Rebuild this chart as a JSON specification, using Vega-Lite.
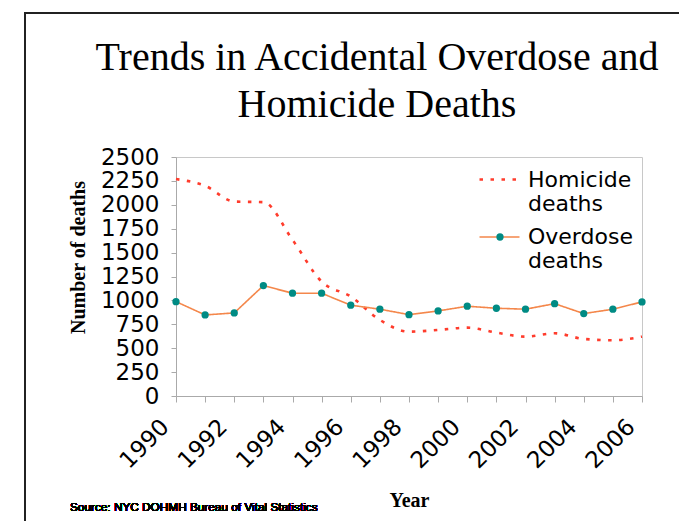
{
  "$schema": "https://vega.github.io/schema/vega-lite/v6.json",
  "width": 466,
  "height": 239,
  "autosize": {"type": "none"},
  "padding": {"left": 176, "top": 157, "right": 37, "bottom": 125},
  "background": "white",
  "title": {
    "text": ["Trends in Accidental Overdose and", "Homicide Deaths"],
    "font": "Liberation Serif",
    "fontSize": 40,
    "fontWeight": "normal",
    "color": "black",
    "lineHeight": 47,
    "anchor": "middle",
    "dx": -32,
    "offset": -113
  },
  "config": {
    "view": {"stroke": "#c8c8c8", "strokeWidth": 1},
    "axis": {
      "labelFont": "DejaVu Sans",
      "labelFontSize": 23,
      "labelColor": "black",
      "domainColor": "#aaaaaa",
      "tickColor": "#aaaaaa",
      "grid": false,
      "titleFont": "Liberation Serif",
      "titleFontSize": 20,
      "titleFontWeight": "bold",
      "titleColor": "black"
    },
    "legend": {
      "labelFont": "DejaVu Sans",
      "labelFontSize": 22,
      "labelColor": "black"
    }
  },
  "data": {
    "values": [
      {"year": 1990, "series": "Homicide deaths", "deaths": 2269},
      {"year": 1991, "series": "Homicide deaths", "deaths": 2199},
      {"year": 1992, "series": "Homicide deaths", "deaths": 2034},
      {"year": 1993, "series": "Homicide deaths", "deaths": 2028},
      {"year": 1994, "series": "Homicide deaths", "deaths": 1633},
      {"year": 1995, "series": "Homicide deaths", "deaths": 1197},
      {"year": 1996, "series": "Homicide deaths", "deaths": 1040},
      {"year": 1997, "series": "Homicide deaths", "deaths": 796},
      {"year": 1998, "series": "Homicide deaths", "deaths": 673},
      {"year": 1999, "series": "Homicide deaths", "deaths": 691},
      {"year": 2000, "series": "Homicide deaths", "deaths": 715},
      {"year": 2001, "series": "Homicide deaths", "deaths": 663},
      {"year": 2002, "series": "Homicide deaths", "deaths": 621},
      {"year": 2003, "series": "Homicide deaths", "deaths": 656},
      {"year": 2004, "series": "Homicide deaths", "deaths": 597},
      {"year": 2005, "series": "Homicide deaths", "deaths": 583},
      {"year": 2006, "series": "Homicide deaths", "deaths": 621},
      {"year": 1990, "series": "Overdose deaths", "deaths": 987},
      {"year": 1991, "series": "Overdose deaths", "deaths": 848},
      {"year": 1992, "series": "Overdose deaths", "deaths": 869},
      {"year": 1993, "series": "Overdose deaths", "deaths": 1155},
      {"year": 1994, "series": "Overdose deaths", "deaths": 1075},
      {"year": 1995, "series": "Overdose deaths", "deaths": 1075},
      {"year": 1996, "series": "Overdose deaths", "deaths": 950},
      {"year": 1997, "series": "Overdose deaths", "deaths": 908},
      {"year": 1998, "series": "Overdose deaths", "deaths": 851},
      {"year": 1999, "series": "Overdose deaths", "deaths": 890},
      {"year": 2000, "series": "Overdose deaths", "deaths": 939},
      {"year": 2001, "series": "Overdose deaths", "deaths": 918},
      {"year": 2002, "series": "Overdose deaths", "deaths": 908},
      {"year": 2003, "series": "Overdose deaths", "deaths": 966},
      {"year": 2004, "series": "Overdose deaths", "deaths": 862},
      {"year": 2005, "series": "Overdose deaths", "deaths": 908},
      {"year": 2006, "series": "Overdose deaths", "deaths": 984}
    ]
  },
  "encoding": {
    "x": {
      "field": "year",
      "type": "quantitative",
      "scale": {"domain": [1990, 2006], "nice": false, "zero": false},
      "axis": {
        "title": "Year",
        "values": [1990,1991,1992,1993,1994,1995,1996,1997,1998,1999,2000,2001,2002,2003,2004,2005,2006],
        "format": "d",
        "labelExpr": "datum.value % 2 === 0 ? datum.label : ''",
        "labelAngle": -45,
        "labelAlign": "right",
        "labelBaseline": "middle",
        "labelPadding": 21,
        "labelOffset": -11,
        "tickSize": 6,
        "labelFlush": false,
        "labelOverlap": false,
        "titleY": 104,
        "titleBaseline": "middle"
      }
    },
    "y": {
      "field": "deaths",
      "type": "quantitative",
      "scale": {"domain": [0, 2500], "nice": false},
      "axis": {
        "title": "Number of deaths",
        "values": [0,250,500,750,1000,1250,1500,1750,2000,2250,2500],
        "format": "d",
        "tickSize": 5,
        "labelPadding": 12,
        "labelFlush": false,
        "labelOverlap": false,
        "titleX": -98,
        "titleY": 100,
        "titleAngle": -90,
        "titleAlign": "center",
        "titleBaseline": "middle"
      }
    }
  },
  "layer": [
    {
      "mark": {"type": "rect", "fill": null, "fillOpacity": 0, "stroke": "#222222", "strokeWidth": 1.5, "clip": false},
      "encoding": {
        "x": {"datum": 1984.815},
        "x2": {"datum": 2020},
        "y": {"datum": 4006},
        "y2": {"datum": -3000}
      }
    },
    {
      "transform": [{"filter": "datum.series === 'Homicide deaths'"}],
      "mark": {"type": "line", "interpolate": "monotone"},
      "encoding": {
        "color": {
          "field": "series", "type": "nominal",
          "scale": {"domain": ["Homicide deaths", "Overdose deaths"], "range": ["#ff3c2c", "#f4874b"]},
          "legend": {"title": null, "orient": "none", "legendX": 302, "legendY": 1, "symbolType": "stroke", "symbolSize": 1600, "labelOffset": 7, "padding": 0, "rowPadding": 1, "labelExpr": "split(datum.label, ' ')", "labelLimit": 300}
        },
        "strokeDash": {
          "field": "series", "type": "nominal",
          "scale": {"domain": ["Homicide deaths", "Overdose deaths"], "range": [[3.5, 7.5], [1, 0]]},
          "legend": {"title": null, "orient": "none", "legendX": 302, "legendY": 1, "symbolType": "stroke", "symbolSize": 1600, "labelOffset": 7, "padding": 0, "rowPadding": 1, "labelExpr": "split(datum.label, ' ')", "labelLimit": 300}
        },
        "strokeWidth": {
          "field": "series", "type": "nominal",
          "scale": {"domain": ["Homicide deaths", "Overdose deaths"], "range": [2.6, 1.6]},
          "legend": {"title": null, "orient": "none", "legendX": 302, "legendY": 1, "symbolType": "stroke", "symbolSize": 1600, "labelOffset": 7, "padding": 0, "rowPadding": 1, "labelExpr": "split(datum.label, ' ')", "labelLimit": 300}
        }
      }
    },
    {
      "transform": [{"filter": "datum.series === 'Overdose deaths'"}],
      "mark": {"type": "line"},
      "encoding": {
        "color": {
          "field": "series", "type": "nominal",
          "scale": {"domain": ["Homicide deaths", "Overdose deaths"], "range": ["#ff3c2c", "#f4874b"]},
          "legend": {"title": null, "orient": "none", "legendX": 302, "legendY": 1, "symbolType": "stroke", "symbolSize": 1600, "labelOffset": 7, "padding": 0, "rowPadding": 1, "labelExpr": "split(datum.label, ' ')", "labelLimit": 300}
        },
        "strokeDash": {
          "field": "series", "type": "nominal",
          "scale": {"domain": ["Homicide deaths", "Overdose deaths"], "range": [[3.5, 7.5], [1, 0]]},
          "legend": {"title": null, "orient": "none", "legendX": 302, "legendY": 1, "symbolType": "stroke", "symbolSize": 1600, "labelOffset": 7, "padding": 0, "rowPadding": 1, "labelExpr": "split(datum.label, ' ')", "labelLimit": 300}
        },
        "strokeWidth": {
          "field": "series", "type": "nominal",
          "scale": {"domain": ["Homicide deaths", "Overdose deaths"], "range": [2.6, 1.6]},
          "legend": {"title": null, "orient": "none", "legendX": 302, "legendY": 1, "symbolType": "stroke", "symbolSize": 1600, "labelOffset": 7, "padding": 0, "rowPadding": 1, "labelExpr": "split(datum.label, ' ')", "labelLimit": 300}
        }
      }
    },
    {
      "transform": [{"filter": "datum.series === 'Overdose deaths'"}],
      "mark": {"type": "point", "filled": true, "size": 53, "opacity": 1},
      "encoding": {
        "fill": {
          "field": "series", "type": "nominal",
          "scale": {"domain": ["Overdose deaths"], "range": ["#008b84"]},
          "legend": {"title": null, "orient": "none", "legendX": 313, "legendY": 69, "symbolType": "circle", "symbolSize": 53, "symbolOpacity": 1, "labelExpr": "''", "padding": 0, "symbolStrokeWidth": 0}
        }
      }
    },
    {
      "mark": {"type": "text", "text": "Source: NYC DOHMH Bureau of Vital Statistics", "font": "Liberation Sans", "fontSize": 11.8, "align": "left", "baseline": "middle", "color": "black"},
      "encoding": {
        "x": {"datum": 1986.36},
        "y": {"datum": -1162}
      }
    }
  ]
}
